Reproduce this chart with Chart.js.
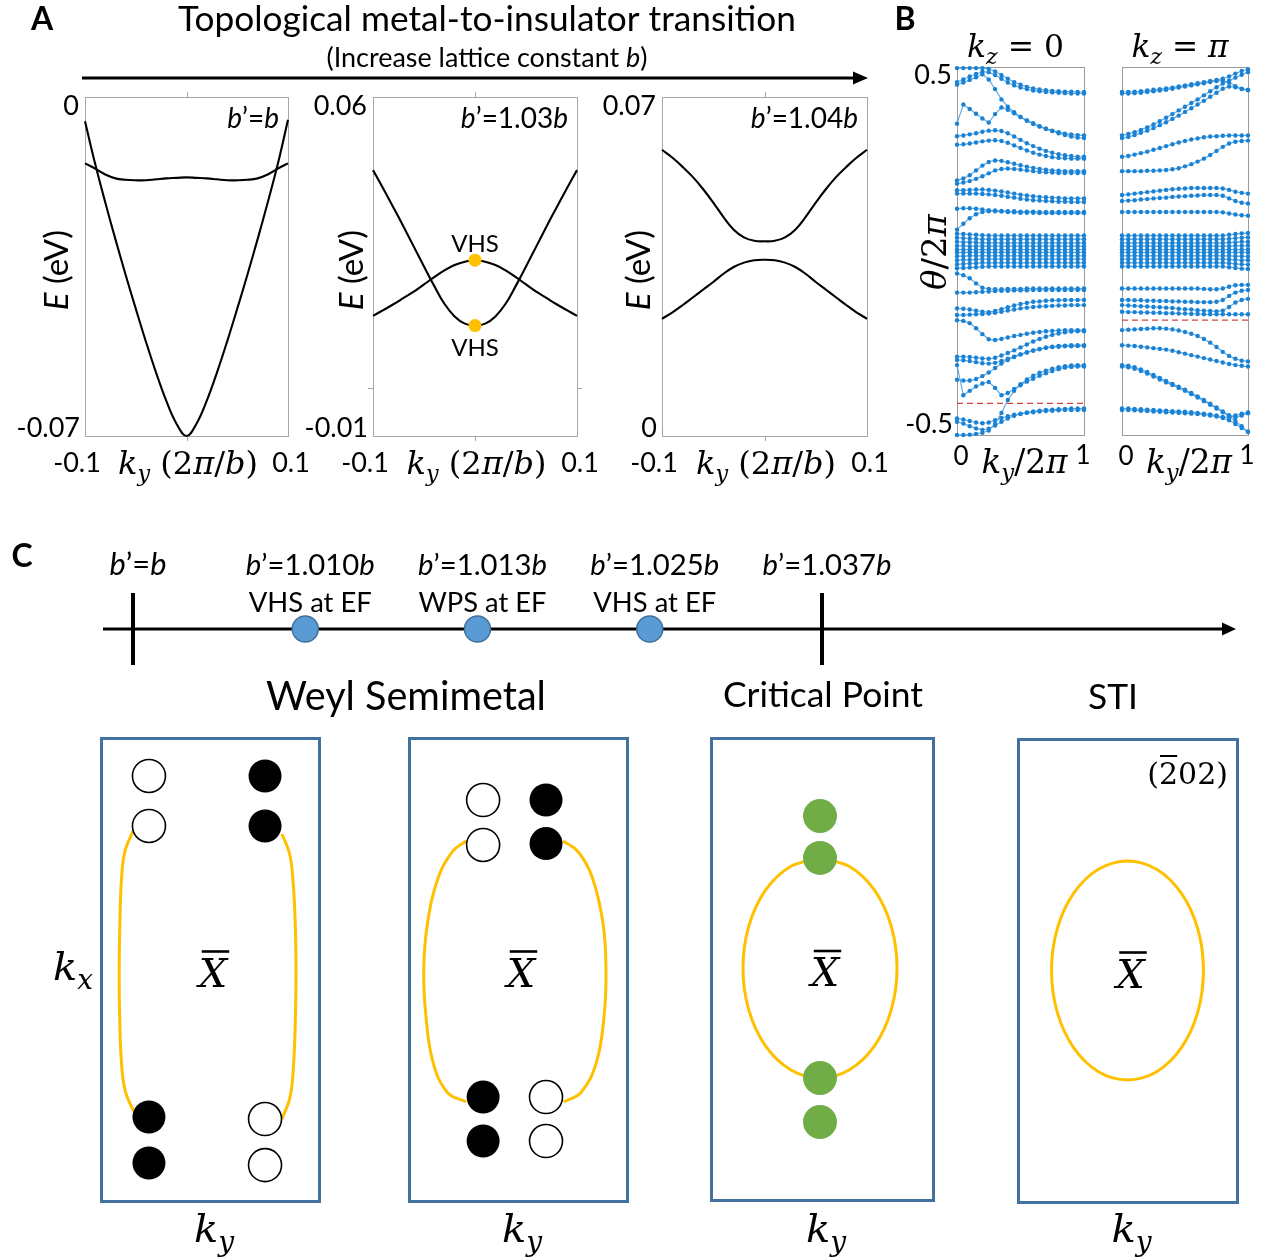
<!DOCTYPE html>
<html>
<head>
<meta charset="utf-8">
<script src="https://cdn.jsdelivr.net/npm/chart.js@4.4.1/dist/chart.umd.min.js"></script>
<style>
  html, body { margin: 0; padding: 0; background: #fff; }
  #fig { position: relative; width: 1272px; height: 1257px; overflow: hidden; background: #fff; }
  #fig canvas { position: absolute; left: 0; top: 0; }
</style>
</head>
<body>
<div id="fig"></div>
<script>
// ---------------- data ----------------
// Panel A: band energies E (eV) versus k_y (2π/b)
const kA = [-0.1,-0.09,-0.08,-0.07,-0.06,-0.05,-0.04,-0.03,-0.02,-0.01,0,0.01,0.02,0.03,0.04,0.05,0.06,0.07,0.08,0.09,0.1];

// b' = b
const eB100Deep = [-0.0050,-0.0138,-0.0218,-0.0294,-0.0367,-0.0437,-0.0505,-0.0569,-0.0627,-0.0674,-0.0700,-0.0674,-0.0627,-0.0569,-0.0505,-0.0437,-0.0367,-0.0294,-0.0218,-0.0138,-0.0047];
const eB100Flat = [-0.0137,-0.0148,-0.0160,-0.0168,-0.0171,-0.0172,-0.0172,-0.0170,-0.0168,-0.0167,-0.0166,-0.0167,-0.0168,-0.0170,-0.0172,-0.0172,-0.0171,-0.0168,-0.0160,-0.0148,-0.0137];

// b' = 1.03b
const eB103Valley = [0.0449,0.0411,0.0372,0.0332,0.0291,0.0250,0.0210,0.0173,0.0147,0.0132,0.0128,0.0132,0.0147,0.0173,0.0210,0.0250,0.0291,0.0332,0.0372,0.0411,0.0449];
const eB103Hump = [0.0148,0.0160,0.0172,0.0185,0.0198,0.0213,0.0228,0.0242,0.0253,0.0260,0.0263,0.0260,0.0253,0.0242,0.0228,0.0213,0.0198,0.0185,0.0172,0.0160,0.0148];
const vhsK = [0, 0];
const vhsE = [0.0263, 0.0128];
const vhsText = ['VHS', 'VHS'];

// b' = 1.04b
const eB104Upper = [0.0591,0.0575,0.0556,0.0535,0.0510,0.0482,0.0452,0.0426,0.0410,0.0403,0.0402,0.0403,0.0410,0.0426,0.0452,0.0482,0.0510,0.0535,0.0556,0.0575,0.0591];
const eB104Lower = [0.0242,0.0255,0.0270,0.0286,0.0302,0.0318,0.0335,0.0349,0.0358,0.0363,0.0364,0.0363,0.0358,0.0349,0.0335,0.0318,0.0302,0.0286,0.0270,0.0255,0.0242];

const latticeTags = ['b’=b', 'b’=1.03b', 'b’=1.04b'];
const yRangeA = [[-0.07, 0], [-0.01, 0.06], [0, 0.07]];
const yTickTextA = [['0', '-0.07'], ['0.06', '-0.01'], ['0.07', '0']];
const xTicksA = [-0.1, 0.1];
const xTickTextA = ['-0.1', '0.1'];

// Panel B: Wilson loop phases θ/2π versus k_y/2π
const kW = [0,0.05,0.1,0.15,0.2,0.25,0.3,0.35,0.4,0.45,0.5,0.55,0.6,0.65,0.7,0.75,0.8,0.85,0.9,0.95,1];

const wilsonKz0 = [
  [0.497,0.497,0.497,0.497,0.497,0.495,0.488,0.478,0.468,0.459,0.452,0.446,0.442,0.439,0.437,0.435,0.434,0.433,0.433,0.432,0.432],
  [0.459,0.466,0.474,0.481,0.487,0.486,0.478,0.468,0.458,0.450,0.444,0.440,0.436,0.434,0.432,0.431,0.430,0.429,0.428,0.428,0.428],
  [0.452,0.458,0.465,0.472,0.480,0.466,0.440,0.412,0.392,0.377,0.364,0.354,0.345,0.338,0.332,0.327,0.323,0.319,0.317,0.315,0.314],
  [0.346,0.398,0.386,0.373,0.360,0.349,0.372,0.390,0.384,0.374,0.364,0.355,0.347,0.339,0.332,0.326,0.320,0.315,0.311,0.308,0.307],
  [0.312,0.314,0.317,0.320,0.324,0.327,0.328,0.326,0.320,0.311,0.302,0.293,0.285,0.278,0.272,0.267,0.263,0.260,0.258,0.256,0.256],
  [0.289,0.290,0.292,0.295,0.298,0.300,0.301,0.299,0.294,0.287,0.280,0.273,0.267,0.262,0.258,0.255,0.253,0.252,0.251,0.251,0.251],
  [0.192,0.197,0.206,0.219,0.232,0.242,0.246,0.245,0.241,0.237,0.233,0.229,0.226,0.223,0.221,0.219,0.218,0.217,0.217,0.217,0.217],
  [0.183,0.186,0.190,0.196,0.203,0.211,0.219,0.223,0.224,0.223,0.221,0.219,0.217,0.215,0.214,0.213,0.212,0.212,0.212,0.212,0.212],
  [0.165,0.165,0.166,0.167,0.167,0.166,0.164,0.162,0.159,0.156,0.153,0.151,0.149,0.147,0.146,0.145,0.144,0.143,0.143,0.143,0.143],
  [0.156,0.156,0.156,0.156,0.155,0.154,0.152,0.150,0.147,0.145,0.142,0.140,0.138,0.137,0.136,0.135,0.134,0.134,0.133,0.133,0.133],
  [0.115,0.116,0.116,0.115,0.113,0.111,0.110,0.109,0.108,0.108,0.107,0.107,0.107,0.106,0.106,0.106,0.106,0.106,0.106,0.106,0.106],
  [0.058,0.074,0.089,0.100,0.106,0.108,0.108,0.107,0.106,0.105,0.104,0.104,0.104,0.103,0.103,0.103,0.103,0.103,0.103,0.103,0.103],
  [0.047,0.046,0.045,0.044,0.043,0.042,0.042,0.042,0.042,0.042,0.042,0.042,0.042,0.042,0.042,0.042,0.042,0.042,0.042,0.042,0.042],
  [0.036,0.035,0.034,0.033,0.032,0.032,0.032,0.032,0.032,0.032,0.032,0.032,0.032,0.032,0.032,0.032,0.032,0.032,0.032,0.032,0.032],
  [0.025,0.024,0.024,0.023,0.022,0.022,0.022,0.022,0.022,0.022,0.022,0.022,0.022,0.022,0.022,0.022,0.022,0.022,0.022,0.022,0.022],
  [0.014,0.014,0.013,0.013,0.013,0.013,0.013,0.013,0.013,0.013,0.013,0.013,0.013,0.013,0.013,0.013,0.013,0.013,0.013,0.013,0.013],
  [0.004,0.004,0.004,0.004,0.004,0.004,0.004,0.004,0.004,0.004,0.004,0.004,0.004,0.004,0.004,0.004,0.004,0.004,0.004,0.004,0.004],
  [-0.004,-0.004,-0.004,-0.004,-0.004,-0.004,-0.004,-0.004,-0.004,-0.004,-0.004,-0.004,-0.004,-0.004,-0.004,-0.004,-0.004,-0.004,-0.004,-0.004,-0.004],
  [-0.014,-0.014,-0.013,-0.013,-0.013,-0.013,-0.013,-0.013,-0.013,-0.013,-0.013,-0.013,-0.013,-0.013,-0.013,-0.013,-0.013,-0.013,-0.013,-0.013,-0.013],
  [-0.025,-0.024,-0.024,-0.023,-0.022,-0.022,-0.022,-0.022,-0.022,-0.022,-0.022,-0.022,-0.022,-0.022,-0.022,-0.022,-0.022,-0.022,-0.022,-0.022,-0.022],
  [-0.036,-0.035,-0.034,-0.033,-0.032,-0.032,-0.032,-0.032,-0.032,-0.032,-0.032,-0.032,-0.032,-0.032,-0.032,-0.032,-0.032,-0.032,-0.032,-0.032,-0.032],
  [-0.047,-0.046,-0.045,-0.044,-0.043,-0.042,-0.042,-0.042,-0.042,-0.042,-0.042,-0.042,-0.042,-0.042,-0.042,-0.042,-0.042,-0.042,-0.042,-0.042,-0.042],
  [-0.061,-0.066,-0.074,-0.088,-0.100,-0.103,-0.104,-0.104,-0.103,-0.103,-0.103,-0.102,-0.102,-0.102,-0.102,-0.102,-0.102,-0.102,-0.102,-0.102,-0.102],
  [-0.113,-0.113,-0.113,-0.112,-0.111,-0.110,-0.109,-0.108,-0.108,-0.107,-0.107,-0.107,-0.106,-0.106,-0.106,-0.106,-0.106,-0.106,-0.106,-0.106,-0.106],
  [-0.156,-0.157,-0.159,-0.162,-0.165,-0.166,-0.163,-0.158,-0.153,-0.148,-0.144,-0.141,-0.138,-0.137,-0.135,-0.134,-0.134,-0.133,-0.133,-0.133,-0.133],
  [-0.174,-0.174,-0.173,-0.172,-0.171,-0.170,-0.168,-0.165,-0.162,-0.159,-0.156,-0.154,-0.152,-0.151,-0.150,-0.149,-0.148,-0.148,-0.147,-0.147,-0.147],
  [-0.188,-0.190,-0.196,-0.210,-0.226,-0.240,-0.242,-0.239,-0.235,-0.231,-0.228,-0.225,-0.222,-0.220,-0.218,-0.217,-0.216,-0.215,-0.215,-0.215,-0.215],
  [-0.287,-0.287,-0.288,-0.290,-0.292,-0.293,-0.290,-0.284,-0.277,-0.270,-0.262,-0.254,-0.246,-0.239,-0.233,-0.228,-0.224,-0.221,-0.219,-0.218,-0.218],
  [-0.296,-0.297,-0.299,-0.302,-0.305,-0.306,-0.304,-0.299,-0.293,-0.287,-0.281,-0.276,-0.271,-0.267,-0.263,-0.260,-0.258,-0.257,-0.256,-0.256,-0.256],
  [-0.350,-0.352,-0.352,-0.348,-0.340,-0.330,-0.318,-0.306,-0.296,-0.288,-0.281,-0.275,-0.270,-0.266,-0.263,-0.261,-0.260,-0.259,-0.259,-0.258,-0.258],
  [-0.310,-0.392,-0.380,-0.368,-0.360,-0.356,-0.372,-0.392,-0.386,-0.375,-0.365,-0.355,-0.347,-0.339,-0.332,-0.326,-0.321,-0.317,-0.315,-0.314,-0.314],
  [-0.500,-0.500,-0.499,-0.497,-0.494,-0.488,-0.470,-0.440,-0.405,-0.380,-0.362,-0.349,-0.339,-0.331,-0.325,-0.320,-0.316,-0.313,-0.311,-0.310,-0.310],
  [-0.455,-0.458,-0.462,-0.466,-0.468,-0.466,-0.460,-0.454,-0.449,-0.445,-0.442,-0.440,-0.438,-0.436,-0.435,-0.434,-0.433,-0.432,-0.432,-0.432,-0.432],
  [-0.464,-0.469,-0.476,-0.482,-0.486,-0.483,-0.474,-0.464,-0.455,-0.448,-0.443,-0.439,-0.436,-0.434,-0.432,-0.431,-0.430,-0.429,-0.428,-0.428,-0.428]
];

const wilsonKzPi = [
  [0.432,0.432,0.433,0.434,0.436,0.438,0.440,0.442,0.444,0.447,0.450,0.453,0.456,0.459,0.462,0.465,0.468,0.474,0.482,0.489,0.494],
  [0.428,0.428,0.429,0.430,0.432,0.434,0.436,0.438,0.441,0.444,0.447,0.450,0.453,0.456,0.459,0.462,0.463,0.458,0.448,0.440,0.437],
  [0.314,0.318,0.323,0.329,0.336,0.344,0.353,0.362,0.372,0.382,0.392,0.402,0.412,0.423,0.434,0.445,0.455,0.463,0.471,0.479,0.486],
  [0.307,0.310,0.315,0.321,0.327,0.334,0.342,0.350,0.359,0.368,0.378,0.388,0.398,0.408,0.419,0.430,0.441,0.447,0.445,0.441,0.438],
  [0.256,0.258,0.262,0.266,0.270,0.275,0.280,0.285,0.290,0.295,0.299,0.303,0.306,0.309,0.311,0.312,0.313,0.314,0.314,0.314,0.314],
  [0.217,0.217,0.217,0.217,0.218,0.218,0.219,0.220,0.222,0.225,0.230,0.236,0.243,0.251,0.261,0.272,0.283,0.292,0.297,0.299,0.300],
  [0.152,0.154,0.156,0.158,0.160,0.162,0.164,0.166,0.168,0.169,0.170,0.171,0.171,0.171,0.171,0.171,0.170,0.166,0.161,0.158,0.156],
  [0.136,0.137,0.138,0.140,0.141,0.143,0.144,0.145,0.147,0.148,0.149,0.150,0.151,0.152,0.152,0.152,0.150,0.143,0.136,0.131,0.129],
  [0.106,0.106,0.106,0.106,0.106,0.106,0.106,0.106,0.106,0.106,0.106,0.106,0.106,0.106,0.106,0.106,0.105,0.102,0.099,0.097,0.096],
  [0.042,0.042,0.042,0.042,0.042,0.042,0.042,0.042,0.042,0.042,0.042,0.042,0.042,0.042,0.042,0.042,0.042,0.044,0.046,0.048,0.049],
  [0.032,0.032,0.032,0.032,0.032,0.032,0.032,0.032,0.032,0.032,0.032,0.032,0.032,0.032,0.032,0.032,0.032,0.033,0.035,0.036,0.037],
  [0.022,0.022,0.022,0.022,0.022,0.022,0.022,0.022,0.022,0.022,0.022,0.022,0.022,0.022,0.022,0.022,0.022,0.023,0.024,0.025,0.025],
  [0.013,0.013,0.013,0.013,0.013,0.013,0.013,0.013,0.013,0.013,0.013,0.013,0.013,0.013,0.013,0.013,0.013,0.013,0.014,0.014,0.015],
  [0.004,0.004,0.004,0.004,0.004,0.004,0.004,0.004,0.004,0.004,0.004,0.004,0.004,0.004,0.004,0.004,0.004,0.004,0.004,0.004,0.004],
  [-0.004,-0.004,-0.004,-0.004,-0.004,-0.004,-0.004,-0.004,-0.004,-0.004,-0.004,-0.004,-0.004,-0.004,-0.004,-0.004,-0.004,-0.004,-0.004,-0.004,-0.004],
  [-0.013,-0.013,-0.013,-0.013,-0.013,-0.013,-0.013,-0.013,-0.013,-0.013,-0.013,-0.013,-0.013,-0.013,-0.013,-0.013,-0.013,-0.013,-0.014,-0.014,-0.015],
  [-0.022,-0.022,-0.022,-0.022,-0.022,-0.022,-0.022,-0.022,-0.022,-0.022,-0.022,-0.022,-0.022,-0.022,-0.022,-0.022,-0.022,-0.023,-0.024,-0.025,-0.025],
  [-0.032,-0.032,-0.032,-0.032,-0.032,-0.032,-0.032,-0.032,-0.032,-0.032,-0.032,-0.032,-0.032,-0.032,-0.032,-0.032,-0.032,-0.033,-0.035,-0.036,-0.037],
  [-0.042,-0.042,-0.042,-0.042,-0.042,-0.042,-0.042,-0.042,-0.042,-0.042,-0.042,-0.042,-0.042,-0.042,-0.042,-0.042,-0.042,-0.044,-0.046,-0.048,-0.049],
  [-0.102,-0.102,-0.102,-0.102,-0.102,-0.102,-0.102,-0.102,-0.102,-0.102,-0.102,-0.102,-0.102,-0.103,-0.104,-0.104,-0.102,-0.097,-0.093,-0.092,-0.092],
  [-0.133,-0.133,-0.134,-0.134,-0.135,-0.135,-0.136,-0.136,-0.137,-0.137,-0.138,-0.138,-0.139,-0.139,-0.139,-0.138,-0.133,-0.122,-0.113,-0.108,-0.106],
  [-0.147,-0.148,-0.149,-0.150,-0.151,-0.152,-0.153,-0.154,-0.155,-0.157,-0.158,-0.159,-0.161,-0.162,-0.163,-0.164,-0.162,-0.152,-0.140,-0.133,-0.130],
  [-0.165,-0.166,-0.166,-0.167,-0.167,-0.168,-0.168,-0.169,-0.169,-0.170,-0.170,-0.171,-0.171,-0.172,-0.172,-0.172,-0.172,-0.172,-0.172,-0.172,-0.172],
  [-0.215,-0.214,-0.213,-0.212,-0.211,-0.210,-0.210,-0.211,-0.213,-0.216,-0.220,-0.225,-0.231,-0.239,-0.249,-0.261,-0.274,-0.285,-0.293,-0.298,-0.300],
  [-0.256,-0.257,-0.258,-0.260,-0.262,-0.264,-0.266,-0.268,-0.271,-0.275,-0.279,-0.283,-0.287,-0.291,-0.295,-0.299,-0.303,-0.307,-0.310,-0.312,-0.314],
  [-0.314,-0.316,-0.320,-0.326,-0.333,-0.341,-0.349,-0.357,-0.364,-0.372,-0.380,-0.389,-0.398,-0.408,-0.418,-0.428,-0.438,-0.449,-0.462,-0.476,-0.491],
  [-0.310,-0.312,-0.316,-0.322,-0.329,-0.337,-0.345,-0.353,-0.361,-0.369,-0.377,-0.386,-0.395,-0.405,-0.415,-0.425,-0.436,-0.446,-0.452,-0.447,-0.441],
  [-0.432,-0.432,-0.433,-0.434,-0.435,-0.436,-0.437,-0.438,-0.439,-0.440,-0.441,-0.442,-0.443,-0.445,-0.447,-0.450,-0.454,-0.460,-0.470,-0.481,-0.491],
  [-0.428,-0.428,-0.429,-0.430,-0.431,-0.432,-0.433,-0.434,-0.435,-0.436,-0.437,-0.438,-0.440,-0.442,-0.444,-0.447,-0.451,-0.452,-0.447,-0.442,-0.439]
];

const refLevelKz0 = -0.414;
const refLevelKzPi = -0.188;
const yTicksB = [0.5, -0.5];
const yTickTextB = ['0.5', '-0.5'];
const xTicksB = [0, 1];
const xTickTextB = ['0', '1'];

// Panel C: phase sequence
const stageLabels = ['b’=b', 'b’=1.010b', 'b’=1.013b', 'b’=1.025b', 'b’=1.037b'];
const stageMarks = [1, 2, 3];
const stageNotes = ['VHS at EF', 'WPS at EF', 'VHS at EF'];
const phaseBounds = [0, 4];
const phaseNames = ['Weyl Semimetal', 'Critical Point', 'STI'];

// Panel C: surface Brillouin zone sketches (k_y, k_x), box spans -1..1
const bz1Hollow = [[-0.56,0.836],[-0.56,0.62],[0.505,-0.646],[0.505,-0.845]];
const bz1Solid  = [[0.505,0.836],[0.505,0.62],[-0.56,-0.637],[-0.56,-0.836]];
const bz1ArcL = [[-0.697,0.607],[-0.775,0.52],[-0.807,0.426],[-0.826,0.22],[-0.833,0.0],[-0.828,-0.22],[-0.81,-0.417],[-0.775,-0.53],[-0.697,-0.615]];
const bz1ArcR = [[0.66,0.585],[0.73,0.5],[0.762,0.38],[0.782,0.2],[0.789,0.0],[0.784,-0.2],[0.768,-0.4],[0.735,-0.55],[0.66,-0.646]];

const bz2Hollow = [[-0.32,0.732],[-0.32,0.538],[0.257,-0.551],[0.257,-0.741]];
const bz2Solid  = [[0.257,0.732],[0.257,0.544],[-0.32,-0.551],[-0.32,-0.741]];
const bz2ArcL = [[-0.477,0.555],[-0.60,0.51],[-0.73,0.40],[-0.83,0.2],[-0.865,0.0],[-0.845,-0.2],[-0.78,-0.40],[-0.65,-0.53],[-0.477,-0.572]];
const bz2ArcR = [[0.413,0.555],[0.55,0.51],[0.68,0.40],[0.78,0.2],[0.807,0.0],[0.79,-0.2],[0.72,-0.40],[0.58,-0.53],[0.42,-0.572]];

const bz3Nodes = [[-0.018,0.662],[-0.018,0.481],[-0.018,-0.472],[-0.018,-0.662]];
const bz3Loop = [[-0.018,0.480],[-0.284,0.444],[-0.509,0.341],[-0.659,0.186],[-0.712,0.004],[-0.659,-0.178],[-0.509,-0.333],[-0.284,-0.436],[-0.018,-0.472],[0.248,-0.436],[0.473,-0.333],[0.623,-0.178],[0.676,0.004],[0.623,0.186],[0.473,0.341],[0.248,0.444],[-0.018,0.480]];

const bz4Loop = [[0.681,-0.092],[0.694,0],[0.681,0.092],[0.641,0.181],[0.577,0.263],[0.491,0.334],[0.386,0.393],[0.266,0.437],[0.135,0.464],[0,0.473],
  [-0.135,0.464],[-0.266,0.437],[-0.386,0.393],[-0.491,0.334],[-0.577,0.263],[-0.641,0.181],[-0.681,0.092],[-0.694,0],
  [-0.681,-0.092],[-0.641,-0.181],[-0.577,-0.263],[-0.491,-0.334],[-0.386,-0.393],[-0.266,-0.437],[-0.135,-0.464],[0,-0.473],
  [0.135,-0.464],[0.266,-0.437],[0.386,-0.393],[0.491,-0.334],[0.577,-0.263],[0.641,-0.181],[0.681,-0.092],[0.694,0],[0.681,0.092]];
const surfaceTag = '(202)';

// ---------------- drawing helpers ----------------
const W = 1272, H = 1257;
const fig = document.getElementById('fig');
const SANS = 'Lato, "Open Sans", "DejaVu Sans", sans-serif';
const MATH = '"DejaVu Serif", "Liberation Serif", serif';

function fontFor(st, s) {
  if (st === 'b') return `bold ${s}px ${SANS}`;
  if (st === 'i') return `italic ${s}px ${SANS}`;
  if (st === 'm') return `italic ${s}px ${MATH}`;
  if (st === 'ms') return `italic ${(s * 0.7).toFixed(2)}px ${MATH}`;
  if (st === 'mr') return `${s}px ${MATH}`;
  return `${s}px ${SANS}`;
}
function runsWidth(ctx, runs, s) {
  let w = 0;
  for (const [t, st] of runs) { ctx.font = fontFor(st, s); w += ctx.measureText(t).width; }
  return w;
}
// Row of mixed-style text; (x, y) is the anchor at mid cap height.
function text(ctx, runs, x, y, o = {}) {
  if (typeof runs === 'string') runs = [[runs, o.style || 'n']];
  let s = o.size || 24;
  if (o.width) s = Math.min(s * o.width / runsWidth(ctx, runs, s), o.max || 999);
  const w = runsWidth(ctx, runs, s);
  const off = o.align === 'left' ? 0 : o.align === 'right' ? -w : -w / 2;
  ctx.save();
  ctx.translate(x, y);
  if (o.rot) ctx.rotate(o.rot);
  ctx.fillStyle = o.color || '#000';
  ctx.textBaseline = 'alphabetic';
  let cx = off;
  for (const [t, st] of runs) {
    ctx.font = fontFor(st, s);
    ctx.fillText(t, cx, s * 0.36 + (st === 'ms' ? s * 0.22 : 0));
    cx += ctx.measureText(t).width;
  }
  ctx.restore();
  return { size: s, width: w, left: x + off };
}
// italic b inside lattice labels
function latticeRuns(str) {
  return str.split(/(b)/).filter(t => t.length).map(t => [t, t === 'b' ? 'i' : 'n']);
}
function layer() {
  const c = document.createElement('canvas');
  c.width = W; c.height = H;
  c.style.width = W + 'px'; c.style.height = H + 'px';
  fig.appendChild(c);
  return c;
}
function line(ctx, x0, y0, x1, y1, color, lw) {
  ctx.save();
  ctx.strokeStyle = color; ctx.lineWidth = lw;
  ctx.beginPath(); ctx.moveTo(x0, y0); ctx.lineTo(x1, y1); ctx.stroke();
  ctx.restore();
}
function frame(ctx, a, color, lw) {
  ctx.save();
  ctx.strokeStyle = color; ctx.lineWidth = lw;
  const o = lw % 2 ? 0.5 : 0;
  ctx.strokeRect(Math.round(a.left) + o, Math.round(a.top) + o, Math.round(a.right - a.left), Math.round(a.bottom - a.top));
  ctx.restore();
}
const pts = (xs, ys) => xs.map((x, i) => ({ x, y: ys[i] }));
const pairs = arr => arr.map(([x, y]) => ({ x, y }));

// One chart per layer; rect = plot area in page pixels.
function plotChart(rect, xr, yr, datasets, under, over) {
  return new Chart(layer(), {
    type: 'scatter',
    data: { datasets },
    options: {
      responsive: false, animation: false, events: [],
      layout: { padding: { left: rect[0], top: rect[1], right: W - rect[2], bottom: H - rect[3] } },
      scales: {
        x: { type: 'linear', display: false, min: xr[0], max: xr[1] },
        y: { type: 'linear', display: false, min: yr[0], max: yr[1] }
      },
      plugins: { legend: { display: false }, tooltip: { enabled: false } }
    },
    plugins: [{
      id: 'decor',
      beforeDatasetsDraw(ch) { if (under) under(ch.ctx, ch.scales.x, ch.scales.y, ch.chartArea); },
      afterDatasetsDraw(ch) { if (over) over(ch.ctx, ch.scales.x, ch.scales.y, ch.chartArea); }
    }]
  });
}

// ---------------- headings ----------------
const g = layer().getContext('2d');
text(g, [['A', 'b']], 42, 18, { size: 32 });
text(g, 'Topological metal-to-insulator transition', 487, 18, { width: 618, size: 32 });
text(g, [['(Increase lattice constant ', 'n'], ['b', 'i'], [')', 'n']], 487, 57, { width: 321, size: 22 });
line(g, 82, 78, 856, 78, '#000', 3);
g.fillStyle = '#000';
g.beginPath(); g.moveTo(868, 78); g.lineTo(853, 71.5); g.lineTo(853, 84.5); g.closePath(); g.fill();
text(g, [['B', 'b']], 905, 18, { size: 32 });
text(g, [['C', 'b']], 22, 555, { size: 32 });

// ---------------- panel A ----------------
const kyRuns = [['k', 'm'], ['y', 'ms'], [' (2', 'mr'], ['π', 'm'], ['/', 'mr'], ['b', 'm'], [')', 'mr']];
const panelA = [
  { rect: [85, 97, 288, 436], bands: [eB100Deep, eB100Flat], eX: 56 },
  { rect: [373, 97, 577, 436], bands: [eB103Valley, eB103Hump], eX: 351, vhs: true, midY: 0 },
  { rect: [662, 97, 867, 436], bands: [eB104Upper, eB104Lower], eX: 638 }
];
const GRAY = '#a6a6a6';
panelA.forEach((p, n) => {
  const ds = [];
  if (p.vhs) ds.push({ data: pts(vhsK, vhsE), pointRadius: 6.5, pointBackgroundColor: '#FFC000', pointBorderWidth: 0, clip: false });
  p.bands.forEach(b => ds.push({ data: pts(kA, b), showLine: true, borderColor: '#000', borderWidth: 2.1, pointRadius: 0, tension: 0.4, clip: false }));
  const yr = yRangeA[n];
  plotChart(p.rect, [-0.1, 0.1], yr, ds,
    (ctx, X, Y, a) => {
      frame(ctx, a, GRAY, 1);
      const x0 = Math.round(X.getPixelForValue(0)) + 0.5;
      line(ctx, x0, a.top - 5, x0, a.top, GRAY, 1);
      line(ctx, x0, a.bottom, x0, a.bottom + 5, GRAY, 1);
      if (p.midY !== undefined) {
        const y0 = Math.round(Y.getPixelForValue(p.midY)) + 0.5;
        line(ctx, a.left - 5, y0, a.left, y0, GRAY, 1);
        line(ctx, a.right, y0, a.right + 5, y0, GRAY, 1);
      }
    },
    (ctx, X, Y, a) => {
      const [tTop, tBot] = yTickTextA[n];
      text(ctx, tTop, a.left - 6, Y.getPixelForValue(yr[1]) + 8, { size: 27, align: 'right' });
      text(ctx, tBot, a.left - 5, Y.getPixelForValue(yr[0]) - 9, { size: 27, align: 'right' });
      text(ctx, xTickTextA[0], X.getPixelForValue(xTicksA[0]) - 8, 462, { size: 27 });
      text(ctx, xTickTextA[1], X.getPixelForValue(xTicksA[1]) + 3, 462, { size: 27 });
      text(ctx, kyRuns, (a.left + a.right) / 2 + 1.5, 462, { width: 146, size: 30, max: 32 });
      text(ctx, latticeRuns(latticeTags[n]), a.right - 9, a.top + 21, { size: 28, align: 'right' });
      text(ctx, [['E', 'i'], [' (eV)', 'n']], p.eX, 270, { size: 33, rot: -Math.PI / 2 });
      if (p.vhs) {
        const xv = X.getPixelForValue(vhsK[0]);
        text(ctx, vhsText[0], xv, Y.getPixelForValue(vhsE[0]) - 17, { size: 24 });
        text(ctx, vhsText[1], xv, Y.getPixelForValue(vhsE[1]) + 22, { size: 24 });
      }
    });
});

// ---------------- panel B ----------------
const panelB = [
  { rect: [957, 67, 1084, 435], bands: wilsonKz0, ref: refLevelKz0,
    title: [['k', 'm'], ['z', 'ms'], [' = 0', 'mr']], yAxis: true },
  { rect: [1122, 67, 1248, 435], bands: wilsonKzPi, ref: refLevelKzPi,
    title: [['k', 'm'], ['z', 'ms'], [' = ', 'mr'], ['π', 'm']] }
];
panelB.forEach(p => {
  const ds = [{
    data: pts(xTicksB, [p.ref, p.ref]), showLine: true, borderColor: '#d0443c', borderWidth: 1.3,
    borderDash: [6, 4], pointRadius: 0, clip: false
  }];
  p.bands.forEach(b => ds.push({
    data: pts(kW, b), showLine: true, borderColor: 'rgba(60,150,220,0.8)', borderWidth: 1.2,
    pointRadius: 2.2, pointBackgroundColor: '#1a82d4', pointBorderWidth: 0, clip: false
  }));
  plotChart(p.rect, [0, 1], [-0.5, 0.5], ds,
    (ctx, X, Y, a) => frame(ctx, a, '#9a9a9a', 1),
    (ctx, X, Y, a) => {
      const xc = X.getPixelForValue(0.5);
      text(ctx, p.title, xc - 5, 46, { width: 97, size: 30, max: 32 });
      if (p.yAxis) {
        text(ctx, yTickTextB[0], a.left - 5, Y.getPixelForValue(yTicksB[0]) + 7, { size: 27, align: 'right' });
        text(ctx, yTickTextB[1], a.left - 4, Y.getPixelForValue(yTicksB[1]) - 12, { size: 27, align: 'right' });
        text(ctx, [['θ', 'm'], ['/2', 'mr'], ['π', 'm']], a.left - 23, 252, { width: 86, size: 30, max: 34, rot: -Math.PI / 2 });
      }
      text(ctx, xTickTextB[0], X.getPixelForValue(xTicksB[0]) + 4, 456, { size: 26 });
      text(ctx, xTickTextB[1], X.getPixelForValue(xTicksB[1]) - 1, 455, { size: 26 });
      text(ctx, [['k', 'm'], ['y', 'ms'], ['/2', 'mr'], ['π', 'm']], xc + 4, 461, { width: 86, size: 30, max: 33 });
    });
});

// ---------------- panel C: phase sequence ----------------
const tlDatasets = [{
  data: stageMarks.map(s => ({ x: s, y: 0 })), pointRadius: 13, pointBackgroundColor: '#5B9BD5',
  pointBorderColor: '#41719C', pointBorderWidth: 1.5, clip: false
}];
phaseBounds.forEach(b => tlDatasets.push({
  data: [{ x: b, y: -1 }, { x: b, y: 1 }], showLine: true, borderColor: '#000', borderWidth: 4,
  pointRadius: 0, clip: false
}));
plotChart([133, 593, 822, 665], [0, 4], [-1, 1], tlDatasets,
  (ctx, X, Y, a) => {
    const y0 = Y.getPixelForValue(0);
    const xs = X.getPixelForValue(0) - 30, xe = X.getPixelForValue(4) + 402;
    line(ctx, xs, y0, xe, y0, '#000', 3);
    ctx.fillStyle = '#000';
    ctx.beginPath(); ctx.moveTo(xe + 12, y0); ctx.lineTo(xe - 2, y0 - 6.5); ctx.lineTo(xe - 2, y0 + 6.5); ctx.closePath(); ctx.fill();
  },
  (ctx, X, Y, a) => {
    stageLabels.forEach((s, i) => {
      text(ctx, latticeRuns(s), X.getPixelForValue(i) + 5, 564, { width: i === 0 ? 57 : 129, size: 28 });
    });
    stageMarks.forEach((s, i) => {
      text(ctx, stageNotes[i], X.getPixelForValue(s) + 5, 602, { width: stageNotes[i].startsWith('W') ? 128 : 123, size: 26 });
    });
    text(ctx, phaseNames[0], 406, 696, { width: 280, size: 34 });
    text(ctx, phaseNames[1], 823, 694, { width: 200, size: 32 });
    text(ctx, phaseNames[2], 1113, 696, { width: 50, size: 32 });
  });

// ---------------- panel C: Brillouin zone sketches ----------------
const ORANGE = '#FFC000';
const hollow = d => ({ data: pairs(d), pointRadius: 16.5, pointBackgroundColor: '#fff', pointBorderColor: '#000', pointBorderWidth: 1.6, clip: false });
const solid = d => ({ data: pairs(d), pointRadius: 16.5, pointBackgroundColor: '#000', pointBorderColor: '#000', pointBorderWidth: 0, clip: false });
const green = d => ({ data: pairs(d), pointRadius: 17, pointBackgroundColor: '#70AD47', pointBorderWidth: 0, clip: false });
const arc = (d, t) => ({ data: pairs(d), showLine: true, borderColor: ORANGE, borderWidth: 3, pointRadius: 0, tension: t, clip: false });

function xbar(ctx, x, y) {
  const r = text(ctx, [['X', 'm']], x, y, { size: 40 });
  line(ctx, r.left + 3, y - 21, r.left + r.width + 2, y - 21, '#000', 2.6);
}
const boxes = [
  { rect: [101, 738, 319, 1201], ds: [hollow(bz1Hollow), solid(bz1Solid), arc(bz1ArcL, 0.4), arc(bz1ArcR, 0.4)], kx: true },
  { rect: [409, 738, 627, 1201], ds: [hollow(bz2Hollow), solid(bz2Solid), arc(bz2ArcL, 0.4), arc(bz2ArcR, 0.4)] },
  { rect: [711, 738, 933, 1200], ds: [green(bz3Nodes), arc(bz3Loop, 0.34)] },
  { rect: [1018, 739, 1237, 1202], ds: [arc(bz4Loop, 0.335)], tag: true }
];
boxes.forEach(b => {
  plotChart(b.rect, [-1, 1], [-1, 1], b.ds, null, (ctx, X, Y, a) => {
    frame(ctx, a, '#41719C', 3);
    const xc = X.getPixelForValue(0), yc = Y.getPixelForValue(0);
    xbar(ctx, xc + 3, yc + 3);
    text(ctx, [['k', 'm'], ['y', 'ms']], xc + 4, 1228, { size: 40 });
    if (b.kx) text(ctx, [['k', 'm'], ['x', 'ms']], 73, 966, { size: 40 });
    if (b.tag) {
      const r = text(ctx, [[surfaceTag, 'mr']], a.right - 9, a.top + 34, { size: 30, align: 'right' });
      ctx.font = fontFor('mr', r.size);
      const wp = ctx.measureText('(').width, w2 = ctx.measureText('2').width;
      line(ctx, r.left + wp + 1, a.top + 17, r.left + wp + w2 - 1, a.top + 17, '#000', 2);
    }
  });
});
</script>
</body>
</html>
